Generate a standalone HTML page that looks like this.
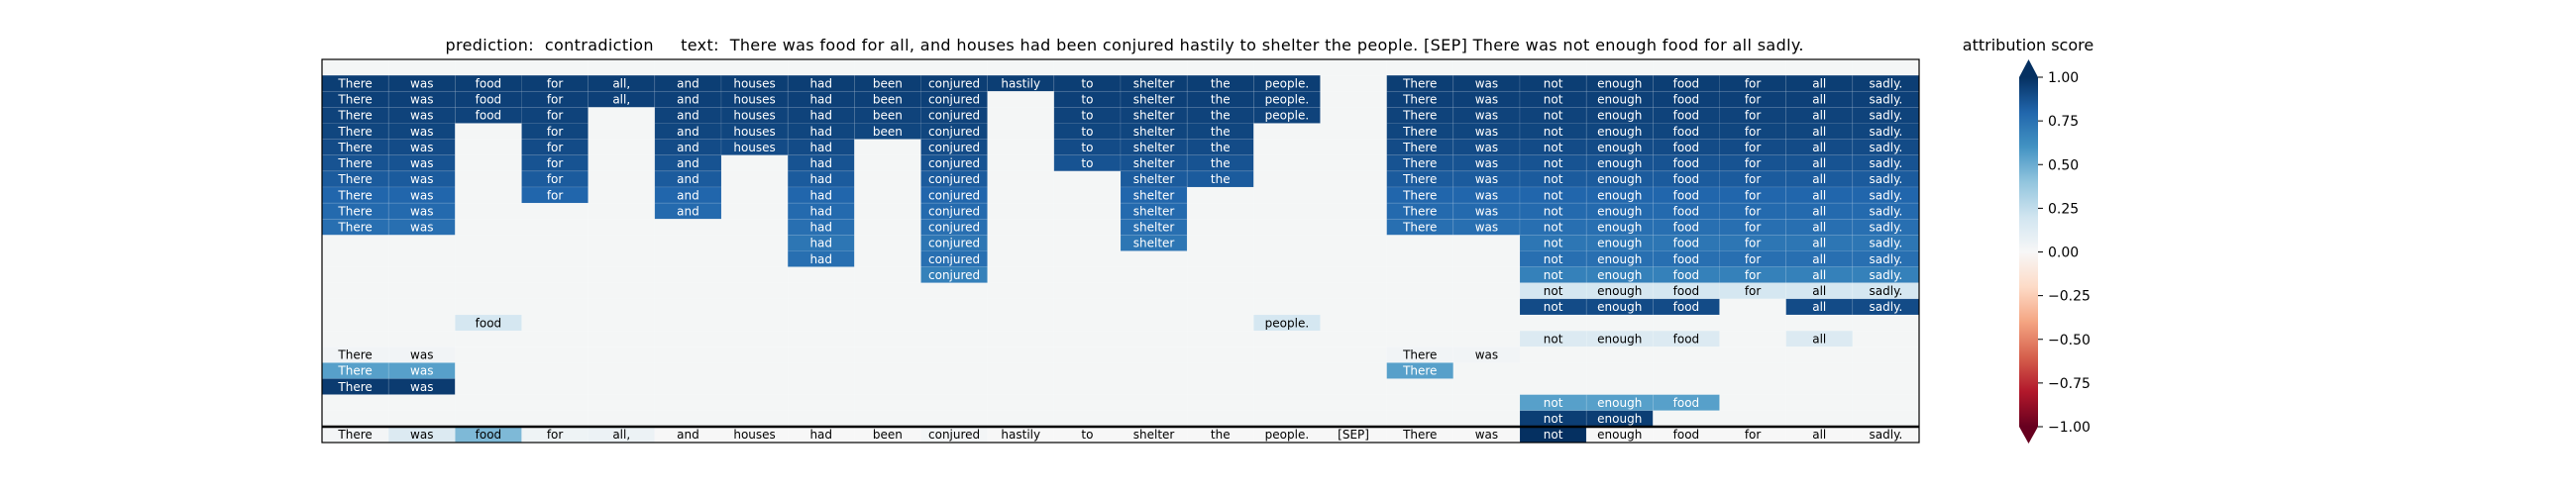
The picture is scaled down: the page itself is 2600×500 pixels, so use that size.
<!DOCTYPE html>
<html><head><meta charset="utf-8"><style>
html,body{margin:0;padding:0;background:#fff;}
svg{display:block;font-family:"DejaVu Sans","Liberation Sans",sans-serif;}
</style></head><body>
<svg id="chart" width="2600" height="500" viewBox="0 0 2600 500" xmlns="http://www.w3.org/2000/svg">
<text x="1135" y="51" text-anchor="middle" font-size="16" fill="#000" style="white-space:pre" textLength="1371" lengthAdjust="spacing">prediction:  contradiction     text:  There was food for all, and houses had been conjured hastily to shelter the people. [SEP] There was not enough food for all sadly.</text>
<g id="cells"></g>
<line x1="325" y1="431" x2="1937" y2="431" stroke="#000" stroke-width="2.5"/>
<rect x="325" y="60" width="1612" height="387" fill="none" stroke="#000" stroke-width="1.2"/>
<defs><linearGradient id="cbgrad" x1="0" y1="1" x2="0" y2="0"></linearGradient></defs>
<g id="colorbar"></g>
<text x="2047" y="51" text-anchor="middle" font-size="16" fill="#000">attribution score</text>
</svg>
<script>
const tokens = ["There","was","food","for","all,","and","houses","had","been","conjured","hastily","to","shelter","the","people.","[SEP]","There","was","not","enough","food","for","all","sadly."];
const _ = null;
const row0 = [_,_,_,_,_,_,_,_,_,_,_,_,_,_,_,_,_,_,_,_,_,_,_,_];
const row1 = [.95,.95,.95,.95,.95,.95,.95,.95,.95,.95,.95,.95,.95,.95,.95,_,.95,.95,.95,.95,.95,.95,.95,.95];
const row2 = [.94,.94,.94,.94,.94,.94,.94,.94,.94,.94,_,.94,.94,.94,.94,_,.94,.94,.94,.94,.94,.94,.94,.94];
const row3 = [.93,.93,.93,.93,_,.93,.93,.93,.93,.93,_,.93,.93,.93,.93,_,.93,.93,.93,.93,.93,.93,.93,.93];
const row4 = [.92,.92,_,.92,_,.92,.92,.92,.92,.92,_,.92,.92,.92,_,_,.92,.92,.92,.92,.92,.92,.92,.92];
const row5 = [.9,.9,_,.9,_,.9,.9,.9,_,.9,_,.9,.9,.9,_,_,.9,.9,.9,.9,.9,.9,.9,.9];
const row6 = [.87,.87,_,.87,_,.87,_,.87,_,.87,_,.87,.87,.87,_,_,.87,.87,.87,.87,.87,.87,.87,.87];
const row7 = [.84,.84,_,.84,_,.84,_,.84,_,.84,_,_,.84,.84,_,_,.84,.84,.84,.84,.84,.84,.84,.84];
const row8 = [.8,.8,_,.8,_,.8,_,.8,_,.8,_,_,.8,_,_,_,.8,.8,.8,.8,.8,.8,.8,.8];
const row9 = [.78,.78,_,_,_,.78,_,.78,_,.78,_,_,.78,_,_,_,.78,.78,.78,.78,.78,.78,.78,.78];
const row10 = [.76,.76,_,_,_,_,_,.76,_,.76,_,_,.76,_,_,_,.76,.76,.76,.76,.76,.76,.76,.76];
const row11 = [_,_,_,_,_,_,_,.73,_,.73,_,_,.73,_,_,_,_,_,.73,.73,.73,.73,.73,.73];
const row12 = [_,_,_,_,_,_,_,.76,_,.76,_,_,_,_,_,_,_,_,.76,.76,.76,.76,.76,.76];
const row13 = [_,_,_,_,_,_,_,_,_,.68,_,_,_,_,_,_,_,_,.68,.68,.68,.68,.68,.68];
const row14 = [_,_,_,_,_,_,_,_,_,_,_,_,_,_,_,_,_,_,.18,.18,.18,.18,.18,.18];
const row15 = [_,_,_,_,_,_,_,_,_,_,_,_,_,_,_,_,_,_,.9,.9,.9,_,.9,.9];
const row16 = [_,_,.18,_,_,_,_,_,_,_,_,_,_,_,.18,_,_,_,_,_,_,_,_,_];
const row17 = [_,_,_,_,_,_,_,_,_,_,_,_,_,_,_,_,_,_,.14,.14,.14,_,.14,_];
const row18 = [.03,.03,_,_,_,_,_,_,_,_,_,_,_,_,_,_,.03,.03,_,_,_,_,_,_];
const row19 = [.55,.55,_,_,_,_,_,_,_,_,_,_,_,_,_,_,.55,_,_,_,_,_,_,_];
const row20 = [.96,.96,_,_,_,_,_,_,_,_,_,_,_,_,_,_,_,_,_,_,_,_,_,_];
const row21 = [_,_,_,_,_,_,_,_,_,_,_,_,_,_,_,_,_,_,.55,.55,.55,_,_,_];
const row22 = [_,_,_,_,_,_,_,_,_,_,_,_,_,_,_,_,_,_,.95,.95,_,_,_,_];
const inputRow = [.02,.14,.45,.05,.06,0,0,0,0,.02,0,0,0,0,0,0,0,0,1.0,0,0,0,0,0];
const rows = [row0,row1,row2,row3,row4,row5,row6,row7,row8,row9,row10,row11,row12,row13,row14,row15,row16,row17,row18,row19,row20,row21,row22,inputRow];
const cbTicks = [1.0,0.75,0.5,0.25,0,-0.25,-0.5,-0.75,-1.0];

const stops = ["#67001f","#b2182b","#d6604d","#f4a582","#fddbc7","#f7f7f7","#d1e5f0","#92c5de","#4393c3","#2166ac","#053061"];
function hex(h){return [1,3,5].map(i=>parseInt(h.substr(i,2),16));}
function cmap(v){
  let t=Math.max(0,Math.min(1,(v+1)/2))*10;
  let i=Math.min(9,Math.floor(t)), f=t-i;
  const a=hex(stops[i]), b=hex(stops[i+1]);
  return "rgb("+a.map((x,k)=>Math.round(x+(b[k]-x)*f)).join(",")+")";
}
const X0=325, W=1612, Y0=60, H=387;
const nC=tokens.length, nR=rows.length;
const cw=W/nC, rh=H/nR;
const xs=c=>X0+c*cw, ys=r=>Y0+r*rh;
const NS="http://www.w3.org/2000/svg";
const g=document.getElementById("cells");
rows.forEach((row,r)=>{
  row.forEach((v,c)=>{
    const val = v===null?0:v;
    const rect=document.createElementNS(NS,"rect");
    rect.setAttribute("x",xs(c)); rect.setAttribute("y",ys(r));
    rect.setAttribute("width",cw); rect.setAttribute("height",rh);
    rect.setAttribute("fill",v===null?"#f4f6f6":cmap(val));
    if(v!==null){rect.setAttribute("stroke","rgba(255,255,255,0.18)");rect.setAttribute("stroke-width","0.6");}
    
    
    g.appendChild(rect);
    if(v!==null){
      const t=document.createElementNS(NS,"text");
      t.setAttribute("x",xs(c)+cw/2); t.setAttribute("y",ys(r)+rh/2+4.3);
      t.setAttribute("text-anchor","middle"); t.setAttribute("font-size","12");
      t.setAttribute("fill",Math.abs(val)>0.5?"#fff":"#000");
      t.textContent=tokens[c];
      
      
      g.appendChild(t);
    }
  });
});
const grad=document.getElementById("cbgrad");
for(let i=0;i<=20;i++){
  const s=document.createElementNS(NS,"stop");
  s.setAttribute("offset",(i/20));
  s.setAttribute("stop-color",cmap(-1+2*i/20));
  grad.appendChild(s);
}
const cb=document.getElementById("colorbar");
const CX0=2038, CX1=2057, CT=78, CB=431;
const cy=v=>CB-(v+1)/2*(CB-CT);
const bar=document.createElementNS(NS,"rect");
bar.setAttribute("x",CX0);bar.setAttribute("y",CT);bar.setAttribute("width",CX1-CX0);bar.setAttribute("height",CB-CT);
bar.setAttribute("fill","url(#cbgrad)");


cb.appendChild(bar);
const up=document.createElementNS(NS,"polygon");
up.setAttribute("points",`${CX0},${CT} ${CX1},${CT} ${(CX0+CX1)/2},60`);
up.setAttribute("fill",cmap(1));


cb.appendChild(up);
const dn=document.createElementNS(NS,"polygon");
dn.setAttribute("points",`${CX0},${CB} ${CX1},${CB} ${(CX0+CX1)/2},448`);
dn.setAttribute("fill",cmap(-1));


cb.appendChild(dn);
cbTicks.forEach(v=>{
  const y=cy(v);
  const l=document.createElementNS(NS,"line");
  l.setAttribute("x1",CX1);l.setAttribute("x2",CX1+5);l.setAttribute("y1",y);l.setAttribute("y2",y);
  l.setAttribute("stroke","#000");l.setAttribute("stroke-width","1");
  
  
  cb.appendChild(l);
  const t=document.createElementNS(NS,"text");
  t.setAttribute("x",CX1+10);t.setAttribute("y",y+5);t.setAttribute("font-size","14");
  t.textContent=(v<0?"\u2212":"")+Math.abs(v).toFixed(2);
  
  
  cb.appendChild(t);
});
</script>
</body></html>
